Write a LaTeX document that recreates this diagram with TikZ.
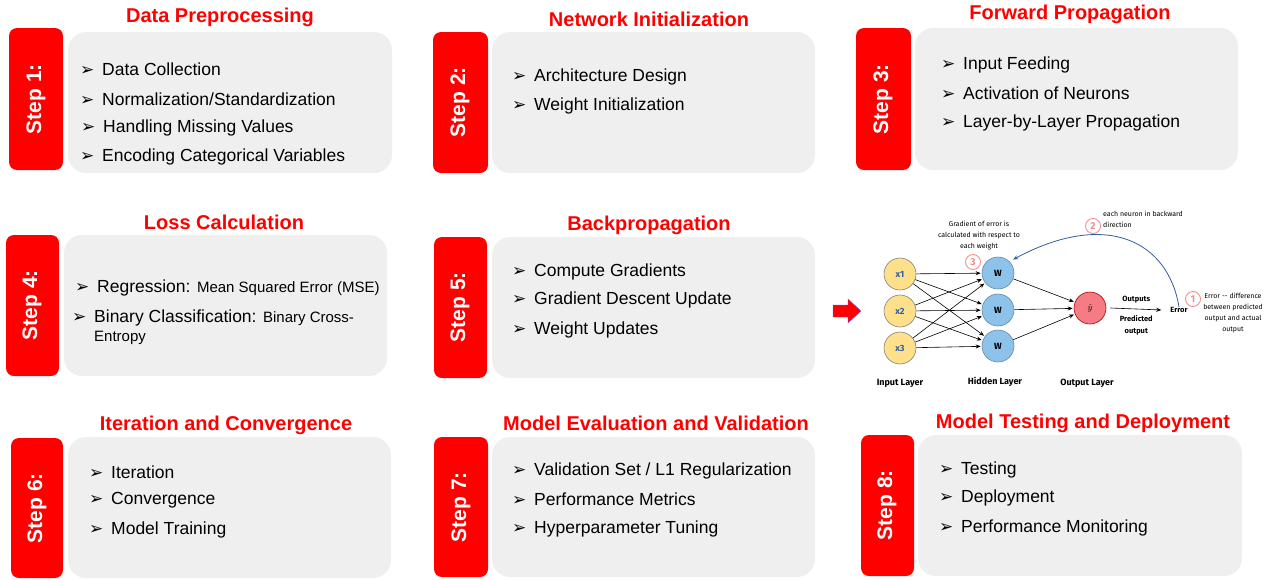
\documentclass[tikz,border=0pt]{standalone}
\usepackage{fontspec}
\setmainfont{Liberation Sans}
\newfontfamily\dejavu{DejaVu Sans}
\newfontfamily\handfont{Fira Sans}
\usetikzlibrary{arrows.meta}

\definecolor{stepred}{HTML}{FF0000}
\definecolor{panelgray}{HTML}{EFEFEF}
\definecolor{inyellow}{HTML}{FFE08A}
\definecolor{hidblue}{HTML}{8DC3EA}
\definecolor{outred}{HTML}{F57C84}
\definecolor{backblue}{HTML}{2F5E9E}
\definecolor{numred}{HTML}{F48C8C}

% arrowhead bullet of the lists
\newcommand{\bul}{\makebox[22pt][l]{\dejavu\fontsize{17}{17}\selectfont ➢}}

\begin{document}
\begin{tikzpicture}[
    x=1pt, y=-1pt,
    >={Stealth[length=5pt,width=4pt]},
    title/.style={
        font=\fontsize{20}{24}\selectfont\bfseries,
        text=stepred
    },
    tab/.style={
        fill=stepred,
        rounded corners=8pt
    },
    panel/.style={
        fill=panelgray,
        rounded corners=18pt
    },
    steplabel/.style={
        font=\fontsize{21}{24}\selectfont\bfseries,
        text=white,
        rotate=90
    },
    item/.style={
        font=\fontsize{17.5}{21}\selectfont,
        anchor=west,
        inner sep=0pt
    },
    neuron/.style={
        circle,
        minimum size=32pt,
        inner sep=0pt,
        line width=0.6pt,
        font=\handfont\fontsize{9}{10}\selectfont\bfseries
    },
    innode/.style={neuron, fill=inyellow, draw=gray, text=backblue},
    hidnode/.style={neuron, fill=hidblue, draw=hidblue!70!black},
    outnode/.style={neuron, fill=outred, draw=red!70!black},
    numcirc/.style={
        circle,
        draw=numred,
        line width=0.9pt,
        minimum size=15pt,
        inner sep=0pt,
        text=numred,
        font=\handfont\fontsize{10}{10}\selectfont\bfseries
    },
    handnote/.style={
        font=\handfont\fontsize{7}{11}\selectfont,
        align=center,
        inner sep=0pt
    },
    layername/.style={
        font=\handfont\fontsize{9}{10}\selectfont\bfseries
    },
    link/.style={
        ->,
        line width=0.6pt,
        shorten >=1pt
    }
]

\useasboundingbox (0,0) rectangle (1271,579);

% ==================================================
% Row 1
% ==================================================

% Step 1
\fill[tab] (9,28) rectangle (63,170);
\fill[panel] (68,32) rectangle (392,173);
\node[steplabel] (st1) at (36,99) {Step 1:};
\node[title] (t1) at (220,17) {Data Preprocessing};
\node[item] (a1) at (80,69)  {\bul Data Collection};
\node[item] (a2) at (80,99)  {\bul Normalization/Standardization};
\node[item] (a3) at (81,128) {\bul Handling Missing Values};
\node[item] (a4) at (80,157) {\bul Encoding Categorical Variables};

% Step 2
\fill[tab] (433,32) rectangle (488,173);
\fill[panel] (492,32) rectangle (815,173);
\node[steplabel] (st2) at (460,102) {Step 2:};
\node[title] (t2) at (649,19) {Network Initialization};
\node[item] (b1) at (512,77)  {\bul Architecture Design};
\node[item] (b2) at (512,106) {\bul Weight Initialization};

% Step 3
\fill[tab] (856,28) rectangle (911,170);
\fill[panel] (915,28) rectangle (1238,170);
\node[steplabel] (st3) at (883,99) {Step 3:};
\node[title] (t3) at (1070,14) {Forward Propagation};
\node[item] (c1) at (941,65)  {\bul Input Feeding};
\node[item] (c2) at (941,93)  {\bul Activation of Neurons};
\node[item] (c3) at (941,123) {\bul Layer-by-Layer Propagation};

% ==================================================
% Row 2
% ==================================================

% Step 4
\fill[tab] (6,235) rectangle (59,376);
\fill[panel] (64,235) rectangle (387,376);
\node[steplabel] (st4) at (32,305) {Step 4:};
\node[title] (t4) at (224,222) {Loss Calculation};
\node[item] (d1) at (75,288)
    {\bul Regression: {\fontsize{15}{18}\selectfont Mean Squared Error (MSE)}};
\node[item] (d2) at (72,318)
    {\bul Binary Classification: {\fontsize{15}{18}\selectfont Binary Cross-}};
\node[item, font=\fontsize{15}{18}\selectfont] (d3) at (94,338) {Entropy};

% Step 5
\fill[tab] (434,237) rectangle (487,378);
\fill[panel] (492,237) rectangle (815,378);
\node[steplabel] (st5) at (460,307) {Step 5:};
\node[title] (t5) at (649,225) {Backpropagation};
\node[item] (e1) at (512,272) {\bul Compute Gradients};
\node[item] (e2) at (512,300) {\bul Gradient Descent Update};
\node[item] (e3) at (512,330) {\bul Weight Updates};

% Red arrow towards the network
\filldraw[fill=stepred, draw=blue!60, line width=0.4pt]
    (833,305) -- (848,305) -- (848,299) -- (861,311)
    -- (848,323) -- (848,317) -- (833,317) -- cycle;

% ==================================================
% Network sketch
% ==================================================

\node[innode] (i1) at (900,274) {x1};
\node[innode] (i2) at (900,311) {x2};
\node[innode] (i3) at (900,348) {x3};

\node[hidnode] (h1) at (998,273) {W};
\node[hidnode] (h2) at (998,310) {W};
\node[hidnode] (h3) at (998,346) {W};

\node[outnode] (yh) at (1090,308) {$\hat{y}$};

\foreach \i in {1,2,3}
    \foreach \h in {1,2,3}
        \draw[link] (i\i) -- (h\h);

\foreach \h in {1,2,3}
    \draw[link] (h\h) -- (yh);

% output and error
\node[handnote, font=\handfont\fontsize{7.5}{9}\selectfont\bfseries]
    (err) at (1179,310) {Error};
\draw[link] (yh.east) ++(4,0) coordinate (yo)
    (yo) -- node[handnote, above=6pt,
        font=\handfont\fontsize{7.5}{9}\selectfont\bfseries] (outs) {Outputs}
    node[handnote, below=6pt,
        font=\handfont\fontsize{7.5}{12}\selectfont\bfseries] (pred)
        {Predicted\\output}
    ([xshift=-8pt]err.west);

% backward arrow
\draw[->, backblue, line width=0.8pt, shorten >=4pt]
    (err.north) .. controls (1168,240) and (1105,210) .. (h1.north east);

% numbered remarks
\node[numcirc] (n1) at (1193,299) {1};
\node[handnote] (r1) at (1233,313)
    {Error -- difference\\between predicted\\output and actual\\output};

\node[numcirc] (n2) at (1093,226) {2};
\node[handnote, align=left, anchor=north west] (r2) at (1103,211)
    {each neuron in backward\\direction};

\node[numcirc] (n3) at (973,262) {3};
\node[handnote] (r3) at (979,236)
    {Gradient of error is\\calculated with respect to\\each weight};

% layer names
\node[layername] (ln1) at (900,383) {Input Layer};
\node[layername] (ln2) at (995,382) {Hidden Layer};
\node[layername] (ln3) at (1087,383) {Output Layer};

% ==================================================
% Row 3
% ==================================================

% Step 6
\fill[tab] (11,438) rectangle (63,578);
\fill[panel] (68,437) rectangle (391,578);
\node[steplabel] (st6) at (37,508) {Step 6:};
\node[title] (t6) at (226,425) {Iteration and Convergence};
\node[item] (f1) at (89,472) {\bul Iteration};
\node[item] (f2) at (89,500) {\bul Convergence};
\node[item] (f3) at (89,530) {\bul Model Training};

% Step 7
\fill[tab] (434,437) rectangle (488,577);
\fill[panel] (492,437) rectangle (815,577);
\node[steplabel] (st7) at (461,507) {Step 7:};
\node[title] (t7) at (656,423) {Model Evaluation and Validation};
\node[item] (g1) at (512,471) {\bul Validation Set / L1 Regularization};
\node[item] (g2) at (512,499) {\bul Performance Metrics};
\node[item] (g3) at (512,529) {\bul Hyperparameter Tuning};

% Step 8
\fill[tab] (861,435) rectangle (914,576);
\fill[panel] (918,435) rectangle (1242,576);
\node[steplabel] (st8) at (887,505) {Step 8:};
\node[title] (t8) at (1083,423) {Model Testing and Deployment};
\node[item] (k1) at (939,470) {\bul Testing};
\node[item] (k2) at (939,498) {\bul Deployment};
\node[item] (k3) at (939,528) {\bul Performance Monitoring};

\end{tikzpicture}
\end{document}
